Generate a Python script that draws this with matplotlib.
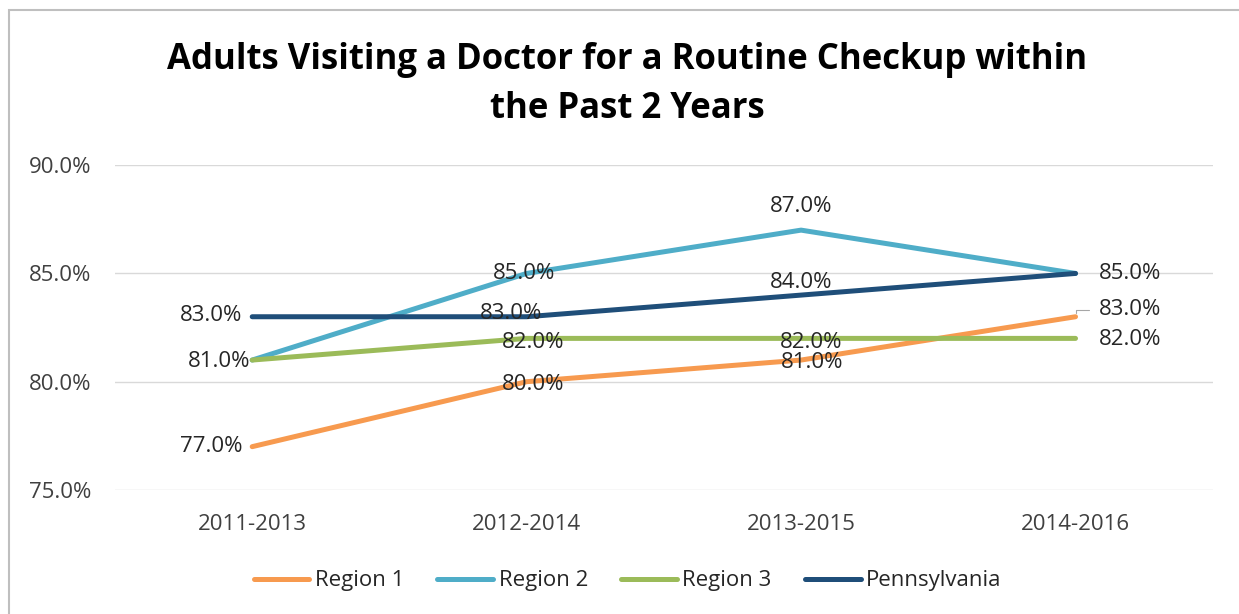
import matplotlib.pyplot as plt
from matplotlib.patches import Rectangle

# Chart data
periods = ["2011-2013", "2012-2014", "2013-2015", "2014-2016"]
region1 = [77.0, 80.0, 81.0, 83.0]
region2 = [81.0, 85.0, 87.0, 85.0]
region3 = [81.0, 82.0, 82.0, 82.0]
pennsylvania = [83.0, 83.0, 84.0, 85.0]
y_ticks = [75.0, 80.0, 85.0, 90.0]

series = [
    ("Region 1", region1, "#F79A4F"),
    ("Region 2", region2, "#4FADC8"),
    ("Region 3", region3, "#9BBB59"),
    ("Pennsylvania", pennsylvania, "#1F4E79"),
]

# label offsets (points) per series, per point: (dx, dy, ha, va)
label_pos = {
    "Region 1": [(-7, 0, "right", "center"), (5, -2, "center", "center"),
                 (8, -2, "center", "center"), (17, 5, "left", "center")],
    "Region 2": [(-1, -1, "right", "center"), (-2, 0, "center", "center"),
                 (0, 17, "center", "center"), (17, 0, "left", "center")],
    "Region 3": [(-1, -1, "right", "center"), (5, -3, "center", "center"),
                 (7, -3, "center", "center"), (17, -1, "left", "center")],
    "Pennsylvania": [(-7, 1, "right", "center"), (-11, 2, "center", "center"),
                     (0, 9, "center", "center"), (17, 0, "left", "center")],
}

plt.rcParams["font.family"] = ["Open Sans", "DejaVu Sans"]

fig = plt.figure(figsize=(12.39, 6.14), dpi=100)
ax = fig.add_axes([0.0928, 0.202, 0.886, 0.529])

x = list(range(len(periods)))
drawn = set()  # avoid double-printing labels that sit on the same spot
for name, vals, color in series:
    ax.plot(x, vals, color=color, linewidth=3.6, solid_capstyle="round", label=name)
    for i, v in enumerate(vals):
        dx, dy, ha, va = label_pos[name][i]
        key = (i, v, round(dy / 3))
        if key in drawn:
            continue
        drawn.add(key)
        ax.annotate(f"{v:.1f}%", (i, v), xytext=(dx, dy), textcoords="offset points",
                    ha=ha, va=va, fontsize=16, color="#262626", zorder=5)

# leader line for the last Region 1 label
ax.annotate("", (x[-1], region1[-1]), xytext=(10, 5), textcoords="offset points",
            arrowprops=dict(arrowstyle="-", color="#A6A6A6", lw=0.8, shrinkA=0, shrinkB=3,
                            connectionstyle="angle,angleA=0,angleB=90,rad=0"))

ax.set_xlim(-0.5, len(periods) - 0.5)
ax.set_ylim(75, 90)
ax.set_yticks(y_ticks)
ax.set_yticklabels([f"{t:.1f}%" for t in y_ticks])
ax.set_xticks(x)
ax.set_xticklabels(periods)
ax.tick_params(axis="both", length=0, labelsize=16, colors="#404040")
ax.tick_params(axis="x", pad=17)
ax.tick_params(axis="y", pad=17)
ax.grid(axis="y", color="#D9D9D9", linewidth=1)
ax.set_axisbelow(True)
for s in ax.spines.values():
    s.set_visible(False)

fig.text(0.506, 0.862, "Adults Visiting a Doctor for a Routine Checkup within\nthe Past 2 Years",
         ha="center", va="center", fontsize=25, fontweight="bold", linespacing=1.5)

ax.legend(loc="center", bbox_to_anchor=(0.467, -0.28), ncol=4, frameon=False,
          fontsize=16, handlelength=2.5, handletextpad=0.25, columnspacing=1.5,
          labelcolor="#262626")

# outer chart border (left and top edges visible)
fig.patches.append(Rectangle((9 / 1239, -0.1), 1.2, 1 - 10 / 614 + 0.1, transform=fig.transFigure,
                             fill=False, edgecolor="#BFBFBF", linewidth=1.5))

fig.savefig("out.png", dpi=100)
